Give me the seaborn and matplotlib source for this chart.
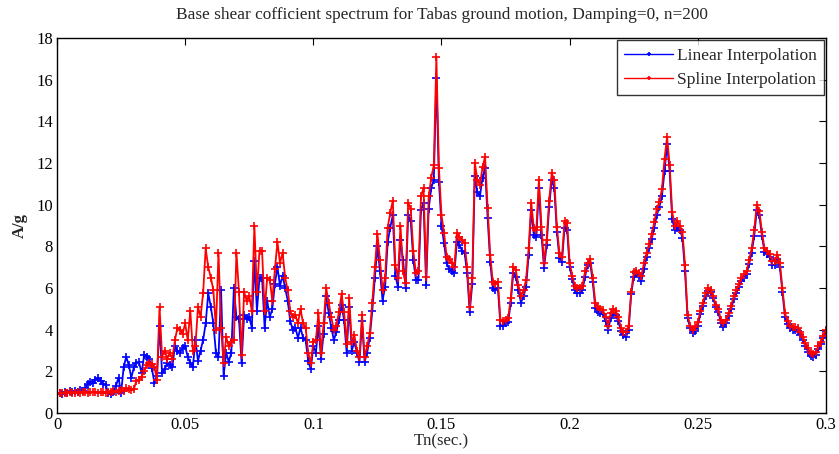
import numpy as np
import pandas as pd
import matplotlib
matplotlib.use("Agg")
import matplotlib.pyplot as plt
import seaborn as sns
from matplotlib.ticker import FuncFormatter

# ---- data ----
period_step = 0.001
n_points = 301

spline_values = [
    0.92, 0.95, 0.97, 0.95, 0.98, 1.0, 0.96, 0.98, 1.0, 0.97,
    1.0, 1.02, 0.98, 1.0, 1.03, 1.0, 0.98, 1.02, 1.0, 0.98,
    1.0, 1.02, 1.05, 1.0, 1.08, 1.1, 1.05, 1.2, 1.15, 1.1,
    1.15, 1.55, 1.6, 1.75, 2.0, 2.3, 2.4, 2.35, 2.2, 1.6,
    5.1, 2.7, 3.0, 2.6, 2.9, 2.6, 3.5, 4.1, 4.0, 3.8,
    4.3, 3.5, 4.9, 3.0, 3.2, 5.1, 4.6, 5.75, 7.9, 7.0,
    6.5, 5.9, 4.0, 7.7, 4.1, 2.4, 3.65, 3.2, 3.4, 3.5,
    7.7, 5.8, 2.8, 5.8, 5.4, 5.6, 4.9, 9.0, 5.8, 7.8,
    7.8, 4.9, 6.5, 6.4, 5.4, 6.9, 8.2, 7.2, 7.7, 6.5,
    5.9, 4.9, 4.6, 4.7, 4.3, 5.0, 4.3, 4.1, 2.9, 2.4,
    3.4, 3.5, 4.8, 2.9, 4.3, 6.0, 5.3, 4.6, 4.0, 4.2,
    4.85, 5.7, 4.85, 3.3, 5.5, 3.4, 3.75, 3.0, 2.7, 4.7,
    2.7, 3.2, 3.85, 5.3, 7.0, 8.6, 7.35, 5.9, 6.5, 8.9,
    9.6, 10.2, 7.1, 6.5, 9.0, 6.8, 6.25, 10.1, 9.8, 7.8,
    6.7, 6.8, 10.4, 10.8, 6.55, 10.4, 11.3, 11.9, 17.1, 11.75,
    9.5, 8.65, 7.5, 7.4, 7.2, 7.0, 8.65, 8.45, 8.3, 8.15,
    7.0, 5.1, 6.5, 12.0, 11.2, 10.95, 11.8, 12.3, 9.85, 7.6,
    6.3, 6.2, 6.3, 4.45, 4.4, 4.45, 4.55, 5.5, 7.0, 6.85,
    6.15, 5.6, 5.9, 6.4, 7.9, 10.1, 8.9, 8.8, 11.2, 8.95,
    7.2, 8.3, 10.2, 11.5, 11.2, 8.95, 7.7, 7.5, 9.2, 9.1,
    7.2, 6.6, 6.1, 6.0, 6.0, 6.1, 6.8, 7.2, 7.4, 6.5,
    5.3, 5.1, 5.0, 4.95, 4.6, 4.2, 4.8, 5.0, 4.9, 4.6,
    4.1, 3.9, 3.9, 4.2, 5.8, 6.75, 6.8, 6.7, 6.6, 7.2,
    7.7, 8.1, 8.6, 9.15, 9.8, 10.15, 10.75, 12.2, 13.25, 11.9,
    9.65, 9.0, 9.2, 9.0, 8.7, 7.1, 4.7, 4.2, 4.0, 4.15,
    4.35, 4.9, 5.3, 5.75, 6.0, 5.9, 5.6, 5.2, 5.0, 4.45,
    4.3, 4.45, 4.8, 5.15, 5.6, 5.9, 6.2, 6.5, 6.65, 6.8,
    7.35, 7.9, 8.8, 10.0, 9.7, 8.7, 7.9, 7.8, 7.65, 7.3,
    7.3, 7.6, 7.2, 6.0, 4.8, 4.4, 4.2, 4.15, 4.15, 4.1,
    3.9, 3.65, 3.35, 3.1, 2.9, 2.85, 2.95, 3.2, 3.4, 3.7, 4.0,
]

linear_values = [
    0.93, 0.95, 0.92, 1.0, 0.97, 1.05, 1.0, 1.08, 1.0, 1.1,
    1.05, 1.2, 1.4, 1.5, 1.45, 1.6, 1.7, 1.55, 1.4, 1.35,
    0.95, 0.9, 1.0, 1.3, 1.7, 0.95, 2.2, 2.7, 2.3, 1.7,
    2.2, 2.4, 2.45, 1.9, 2.8, 2.7, 2.6, 2.15, 1.45, 1.8,
    4.2, 1.9, 2.1, 2.4, 2.3, 2.2, 3.2, 3.0, 2.9, 3.1,
    3.2, 2.7, 2.4, 2.2, 3.5, 2.5, 3.0, 3.5, 4.3, 5.75,
    5.1, 4.3, 2.9, 2.7, 5.9, 1.8, 2.9, 2.45, 2.9, 6.0,
    4.6, 4.5, 2.4, 4.7, 4.5, 4.6, 4.1, 7.3, 4.9, 6.5,
    6.5, 4.1, 5.4, 4.6, 5.0, 6.2, 7.0, 6.1, 6.6, 6.0,
    5.4, 4.4, 4.0, 4.1, 3.6, 4.1, 3.6, 3.5, 2.5, 2.1,
    3.2, 2.9, 4.2, 2.6, 3.8, 5.6, 4.8, 4.1, 3.5, 3.9,
    4.45, 5.2, 4.45, 2.9, 5.1, 3.0, 3.4, 2.9, 2.45, 4.4,
    2.45, 2.9, 3.6, 4.9, 6.5, 8.0, 6.8, 5.4, 6.05, 8.2,
    8.9, 9.5, 6.6, 6.05, 8.3, 7.35, 6.0, 9.5, 9.2, 7.35,
    6.4, 6.4, 9.75, 10.1, 6.15, 9.8, 10.8, 11.2, 16.1, 11.1,
    9.0, 8.15, 7.2, 6.9, 6.8, 6.7, 8.2, 8.05, 7.8, 7.7,
    6.7, 4.85, 6.2, 11.4, 10.6, 10.4, 11.3, 11.75, 9.35, 7.25,
    6.0, 5.9, 6.0, 4.2, 4.2, 4.3, 4.35, 5.3, 6.7, 6.55,
    5.9, 5.3, 5.6, 6.05, 7.6, 9.75, 8.55, 8.45, 10.8, 8.55,
    6.95, 8.05, 9.9, 11.2, 10.8, 8.7, 7.45, 7.25, 8.9, 8.8,
    7.0, 6.45, 5.9, 5.75, 5.75, 5.9, 6.55, 7.1, 7.2, 6.3,
    5.05, 4.85, 4.8, 4.75, 4.4, 4.0, 4.55, 4.8, 4.7, 4.4,
    3.95, 3.75, 3.65, 4.0, 5.7, 6.55, 6.7, 6.6, 6.35, 6.9,
    7.5, 7.9, 8.35, 8.9, 9.5, 9.9, 10.4, 11.6, 12.9, 11.6,
    9.3, 8.8, 8.9, 8.8, 8.4, 6.8, 4.55, 4.1, 3.85, 3.95,
    4.2, 4.75, 5.15, 5.6, 5.85, 5.8, 5.5, 5.1, 4.85, 4.3,
    4.15, 4.3, 4.65, 5.0, 5.45, 5.75, 6.05, 6.35, 6.5, 6.65,
    7.15, 7.7, 8.5, 9.75, 9.5, 8.5, 7.75, 7.65, 7.5, 7.1,
    7.1, 7.4, 7.0, 5.8, 4.6, 4.25, 4.1, 4.0, 4.0, 3.95,
    3.75, 3.5, 3.2, 2.95, 2.75, 2.7, 2.8, 3.05, 3.3, 3.6, 3.95,
]

series_names = ["Linear Interpolation", "Spline Interpolation"]
series_colors = ["#0000ff", "#ff0000"]
x_ticks = [0, 0.05, 0.1, 0.15, 0.2, 0.25, 0.3]
y_ticks = [0, 2, 4, 6, 8, 10, 12, 14, 16, 18]
title_text = "Base shear cofficient spectrum for Tabas ground motion, Damping=0, n=200"
x_label = "Tn(sec.)"
y_label = "A/g"

periods = np.round(np.arange(n_points) * period_step, 4)

df = pd.concat([
    pd.DataFrame({"Tn": periods, "A": linear_values, "method": series_names[0]}),
    pd.DataFrame({"Tn": periods, "A": spline_values, "method": series_names[1]}),
], ignore_index=True)

# ---- style ----
sns.set_theme(style="white")
plt.rcParams["font.family"] = ["Liberation Serif", "DejaVu Serif"]

fig = plt.figure(figsize=(8.39, 4.54), dpi=100)
ax = fig.add_axes([57 / 839, 1 - 413 / 454, (826 - 57) / 839, (413 - 38) / 454])

for name, color in zip(series_names, series_colors):
    sub = df[df["method"] == name]
    sns.lineplot(data=sub, x="Tn", y="A", ax=ax, color=color, linewidth=1.3,
                 marker="+", markersize=6, markeredgewidth=1.2,
                 markeredgecolor=color, estimator=None, sort=False,
                 label=name)

ax.set_xlim(0, 0.3)
ax.set_ylim(0, 18)
ax.set_xticks(x_ticks)
ax.set_yticks(y_ticks)
ax.xaxis.set_major_formatter(FuncFormatter(lambda v, p: f"{v:g}"))
ax.tick_params(direction="in", top=True, right=True, length=5, width=0.8,
               labelsize=12, colors="black", pad=3)
for s in ax.spines.values():
    s.set_color("black")
    s.set_linewidth(1.0)

ax.set_title(title_text, fontsize=12.4, pad=14)
ax.set_xlabel(x_label, fontsize=12, labelpad=0)
ax.set_ylabel(y_label, fontsize=12, fontweight="bold", labelpad=6)

leg = ax.legend(loc="upper right", fontsize=12.5, frameon=True, fancybox=False,
                borderaxespad=0.1, handlelength=2.8, handletextpad=0.2,
                borderpad=0.45, labelspacing=0.45)
leg.get_frame().set_edgecolor("black")
leg.get_frame().set_linewidth(1.0)
for h in leg.get_lines():
    h.set_markersize(3)
    h.set_linewidth(1.0)

fig.savefig("out.png", dpi=100)
